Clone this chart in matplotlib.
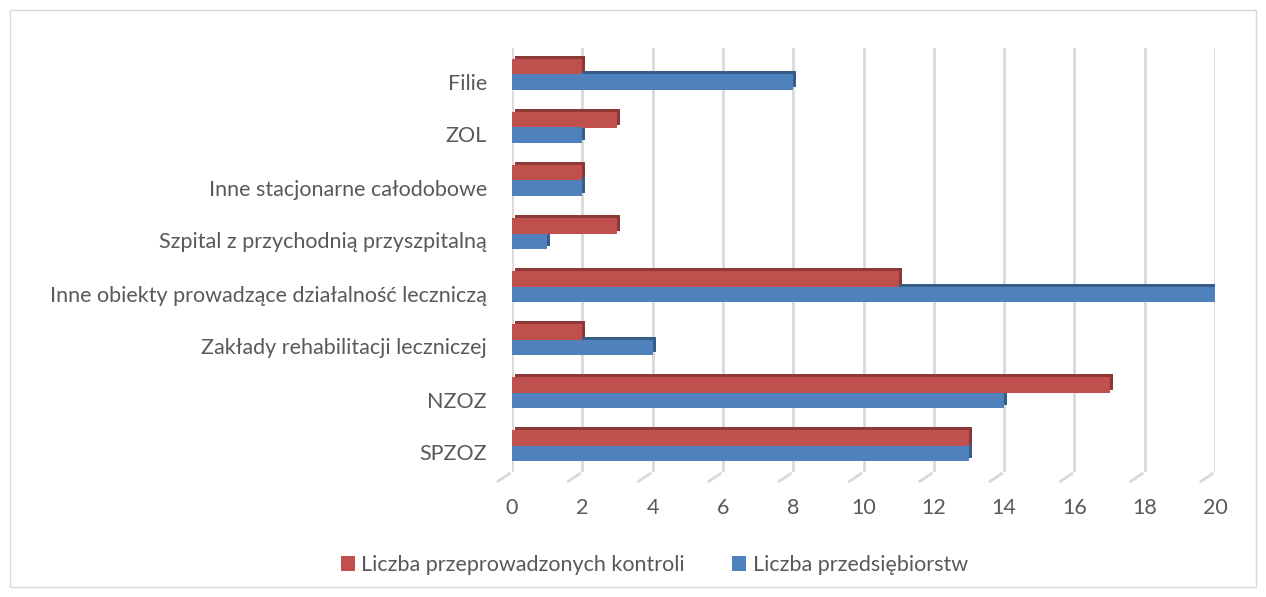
import numpy as np
import matplotlib.pyplot as plt
import matplotlib.transforms as mtransforms
from matplotlib.patches import Rectangle

plt.rcParams['font.family'] = ['Lato', 'DejaVu Sans']

# dane
kategorie = ['SPZOZ', 'NZOZ', 'Zakłady rehabilitacji leczniczej',
             'Inne obiekty prowadzące działalność leczniczą',
             'Szpital z przychodnią przyszpitalną', 'Inne stacjonarne całodobowe',
             'ZOL', 'Filie']
kontrole = [13, 17, 2, 11, 3, 2, 3, 2]
przedsiebiorstwa = [13, 14, 4, 20, 1, 2, 2, 8]

c_red, c_red_d = '#c0504d', '#8c3836'
c_blue, c_blue_d = '#4f81bd', '#385d8a'
txt = '#595959'
fs = 15.5

fig = plt.figure(figsize=(12.66, 5.97), dpi=100)
ax = fig.add_axes([512 / 1266, 1 - 472 / 597, (1215 - 512) / 1266, (472 - 48) / 597])

y = np.arange(len(kategorie))
h = 0.29

# cien 3D - przesuniete ciemniejsze slupki
shift = mtransforms.offset_copy(ax.transData, fig=fig, x=3, y=3, units='dots')
ax.barh(y + h / 2, kontrole, h, color=c_red_d, transform=shift, zorder=2)
ax.barh(y - h / 2, przedsiebiorstwa, h, color=c_blue_d, transform=shift, zorder=2)
ax.barh(y + h / 2, kontrole, h, color=c_red, zorder=3, label='Liczba przeprowadzonych kontroli')
ax.barh(y - h / 2, przedsiebiorstwa, h, color=c_blue, zorder=3, label='Liczba przedsiębiorstw')

ax.set_xlim(0, 20)
ax.set_ylim(-0.5, 7.5)
ax.set_xticks(range(0, 21, 2))
ax.set_yticks(y)
ax.set_yticklabels(kategorie)
ax.tick_params(length=0, colors=txt, labelsize=fs)
ax.tick_params(axis='x', pad=19)
ax.tick_params(axis='y', pad=18)
for lab in ax.get_yticklabels():
    lab.set_transform(lab.get_transform() + mtransforms.Affine2D().translate(0, -7))
ax.grid(axis='x', color='#d9d9d9', linewidth=2, zorder=0)
for s in ax.spines.values():
    s.set_visible(False)

# podloga 3D - ukosne kreski pod siatka
for xt in range(0, 21, 2):
    ax.annotate('', xy=(xt, 0), xycoords=('data', 'axes fraction'),
                xytext=(-12, -8), textcoords='offset points',
                arrowprops=dict(arrowstyle='-', color='#d9d9d9', lw=2))

handles, labels = ax.get_legend_handles_labels()
fig.legend(handles, labels, loc='center', bbox_to_anchor=(0.517, 1 - 565 / 597), ncol=2,
           frameon=False, fontsize=fs, labelcolor=txt, handlelength=0.65, handleheight=0.65,
           columnspacing=2.2, handletextpad=0.3)

fig.patches.append(Rectangle((10 / 1266, 10 / 597), 1 - 20 / 1266, 1 - 20 / 597,
                             transform=fig.transFigure, fill=False, edgecolor='#d9d9d9', lw=1))

fig.savefig('out.png', dpi=100)
